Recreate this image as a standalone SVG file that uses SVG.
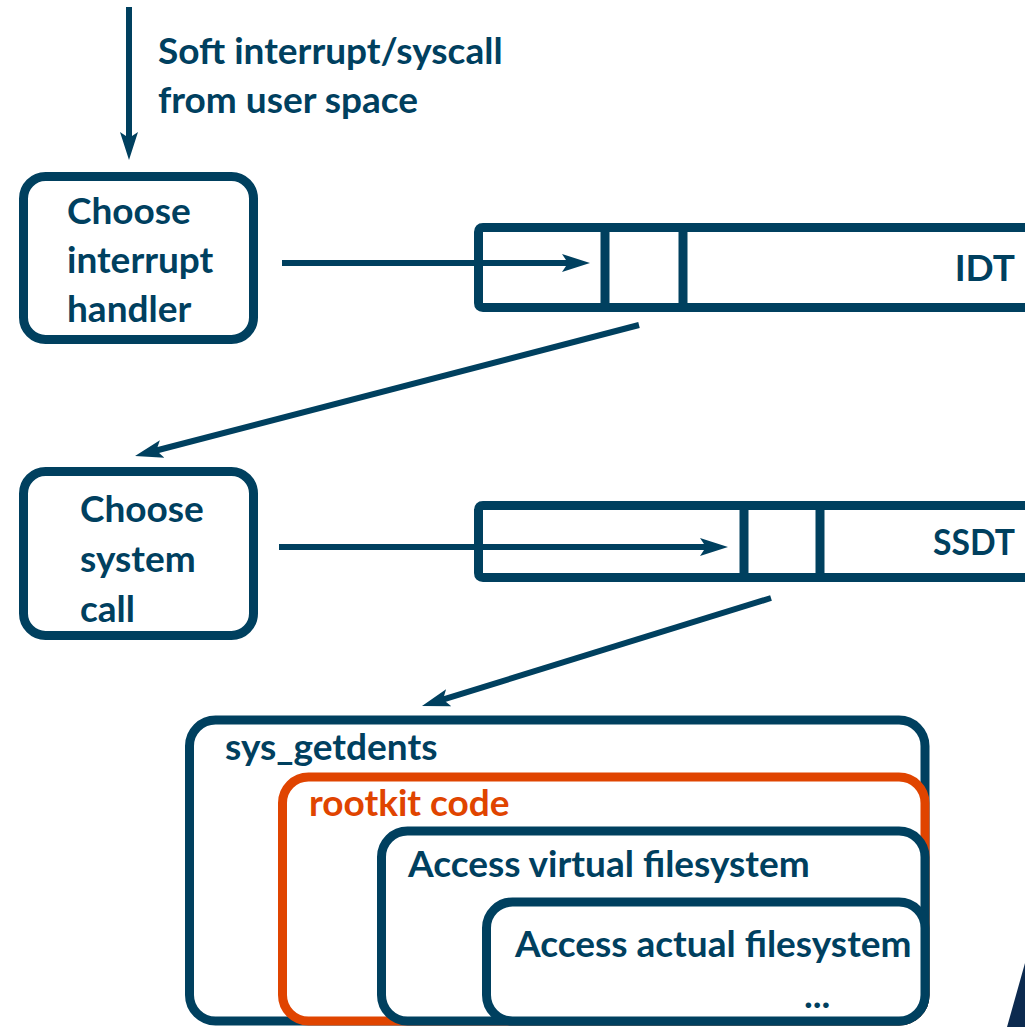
<svg xmlns="http://www.w3.org/2000/svg" width="1025" height="1027" viewBox="0 0 1025 1027">
<style>
.t{font-family:Lato,"Open Sans","Liberation Sans",sans-serif;font-weight:bold;font-size:37px;fill:#00405F}
.o{fill:#E04400}
.box{fill:#fff;stroke:#00405F;stroke-width:9}
.ob{fill:#fff;stroke:#E04400;stroke-width:9}
.ln{stroke:#00405F;stroke-width:9;fill:none}
.cn{stroke:#00405F;stroke-width:6;fill:none;marker-end:url(#ah)}
</style>
<defs>
<marker id="ah" markerUnits="userSpaceOnUse" viewBox="0 -10 30 20" markerWidth="30" markerHeight="20" refX="8" refY="0" orient="auto">
<path d="M0,-9 L28,0 L0,9 L6,0 Z" fill="#00405F"/>
</marker>
</defs>
<rect width="1025" height="1027" fill="#fff"/>
<g id="label-top">
<text class="t" x="158" y="64">Soft interrupt/syscall</text>
<text class="t" x="158" y="113">from user space</text>
</g>
<g id="choose-interrupt">
<rect class="box" x="23.5" y="176.5" width="230" height="163" rx="22"/>
<text class="t" x="67" y="224">Choose</text>
<text class="t" x="67" y="273">interrupt</text>
<text class="t" x="67" y="322">handler</text>
</g>
<g id="idt">
<path class="ln" d="M1030,227.5 H483 Q478.5,227.5 478.5,232 V303 Q478.5,307.5 483,307.5 H1030"/>
<line class="ln" x1="605" y1="227" x2="605" y2="308"/>
<line class="ln" x1="683" y1="227" x2="683" y2="308"/>
<text class="t" x="1015" y="281" text-anchor="end">IDT</text>
</g>
<g id="choose-syscall">
<rect class="box" x="23.5" y="471.5" width="230" height="164" rx="22"/>
<text class="t" x="80" y="522">Choose</text>
<text class="t" x="80" y="572">system</text>
<text class="t" x="80" y="622">call</text>
</g>
<g id="ssdt">
<path class="ln" d="M1030,505.5 H483 Q478.5,505.5 478.5,510 V573 Q478.5,577.5 483,577.5 H1030"/>
<line class="ln" x1="744" y1="505" x2="744" y2="578"/>
<line class="ln" x1="820" y1="505" x2="820" y2="578"/>
<text class="t" x="1015" y="555" text-anchor="end" textLength="82" lengthAdjust="spacingAndGlyphs">SSDT</text>
</g>
<g id="sys-getdents">
<rect class="box" x="189.5" y="720" width="735.5" height="301" rx="26"/>
<text class="t" x="225" y="760">sys_getdents</text>
</g>
<g id="rootkit-code">
<rect class="ob" x="282.5" y="777" width="642.5" height="244" rx="26"/>
<text class="t o" x="309" y="816">rootkit code</text>
</g>
<g id="access-virtual">
<rect class="box" x="381.5" y="831" width="543.5" height="190" rx="26"/>
<text class="t" x="408" y="877">Access virtual filesystem</text>
</g>
<g id="access-actual">
<rect class="box" x="486.5" y="902" width="438.5" height="119" rx="26"/>
<text class="t" x="515" y="957">Access actual filesystem</text>
<text class="t" x="804" y="1008">...</text>
</g>
<g id="connectors">
<line class="cn" x1="129" y1="7" x2="129" y2="140"/>
<line class="cn" x1="282" y1="263" x2="570" y2="263"/>
<line class="cn" x1="639" y1="325" x2="154.4" y2="451"/>
<line class="cn" x1="279" y1="547" x2="708" y2="547"/>
<line class="cn" x1="771" y1="598" x2="441.1" y2="700.1"/>
</g>
<polygon points="1007,1027 1025,963 1025,1027" fill="#0C2A4F"/>
</svg>
